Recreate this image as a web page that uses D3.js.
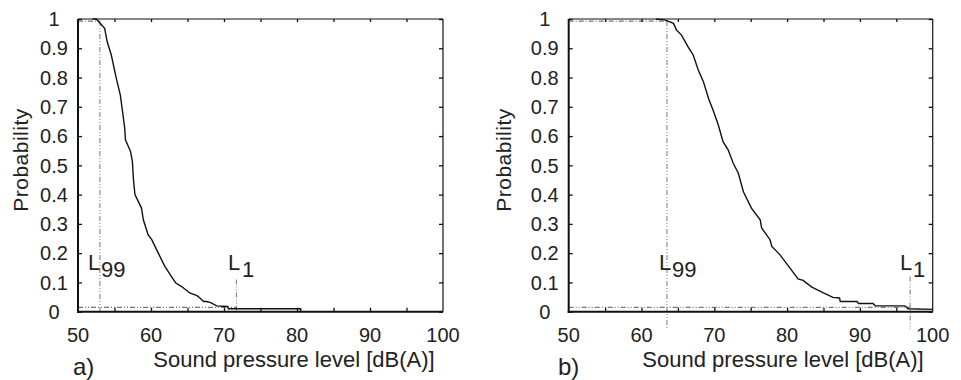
<!DOCTYPE html>
<html><head><meta charset="utf-8">
<script src="https://cdn.jsdelivr.net/npm/d3@7"></script>
<style>
html,body{margin:0;padding:0;background:#fff;}
text{font-family:"Liberation Sans",Arial,sans-serif;fill:#222;}
</style></head>
<body><svg id="c" width="961" height="380"></svg>
<script>
// ---- data ----
const xTicks = [50, 60, 70, 80, 90, 100];
const xMinorTicks = [55, 60, 65, 70, 75, 80, 85, 90, 95];
const yTicks = [0, 0.1, 0.2, 0.3, 0.4, 0.5, 0.6, 0.7, 0.8, 0.9, 1];
const yTickLabels = ["0", "0.1", "0.2", "0.3", "0.4", "0.5", "0.6", "0.7", "0.8", "0.9", "1"];

const splA  = [52.0, 52.5, 53.65, 54.0, 54.56, 55.25, 55.8, 56.1, 56.4, 56.5, 57.2, 57.45, 57.6, 57.8, 58.7, 58.95, 59.6, 60.1, 61.0, 61.9, 62.8, 63.4, 64.2, 65.3, 66.3, 66.7, 67.2, 67.6, 68.1, 69.0, 70.5, 70.6, 80.5, 80.5];
const probA = [1, 1, 0.968, 0.922, 0.877, 0.797, 0.74, 0.684, 0.627, 0.587, 0.547, 0.513, 0.45, 0.40, 0.354, 0.314, 0.263, 0.246, 0.20, 0.155, 0.12, 0.098, 0.086, 0.064, 0.055, 0.047, 0.035, 0.035, 0.032, 0.02, 0.018, 0.01, 0.01, 0];

const splB  = [62.0, 63.2, 64.4, 64.8, 65.5, 66.4, 67.1, 67.8, 68.5, 69.2, 69.9, 70.55, 71.2, 71.9, 72.6, 73.3, 74.0, 75.1, 76.3, 76.5, 77.65, 77.9, 79.0, 80.4, 81.5, 82.2, 83.4, 85.0, 86.3, 87.2, 87.3, 89.6, 89.8, 91.8, 92.1, 96.2, 96.6, 100];
const probB = [1, 0.997, 0.985, 0.962, 0.945, 0.905, 0.877, 0.826, 0.786, 0.729, 0.684, 0.638, 0.581, 0.553, 0.507, 0.473, 0.41, 0.354, 0.314, 0.286, 0.246, 0.223, 0.195, 0.149, 0.112, 0.107, 0.084, 0.064, 0.049, 0.047, 0.035, 0.035, 0.028, 0.028, 0.02, 0.02, 0.01, 0.008];

const L99 = [53.0, 63.5];
const L1 = [71.7, 96.9];
const pHigh = 0.993, pLow = 0.015;
const L1Top = [0.11, 0.12];
const lineBottom = [0, -0.06];
const panelLetters = ["a)", "b)"];
const xTitle = "Sound pressure level [dB(A)]";
const yTitle = "Probability";

// ---- layout ----
const panels = [
  {x0: 78, x1: 443, spl: splA, prob: probA, ylabX: 20, xlabX: 294, letX: 73,
   l99: {lx: 88, nx: 101}, l1: {lx: 228, nx: 242}},
  {x0: 568.7, x1: 932.7, spl: splB, prob: probB, ylabX: 503, xlabX: 783, letX: 558,
   l99: {lx: 659, nx: 672}, l1: {lx: 900, nx: 913}}
];
const yTop = 19, yBot = 311.7;
const svg = d3.select("#c");
const grey = "#777";

panels.forEach((p, i) => {
  const x = d3.scaleLinear().domain([50, 100]).range([p.x0, p.x1]);
  const y = d3.scaleLinear().domain([0, 1]).range([yBot, yTop]);
  const g = svg.append("g");

  // reference lines
  const dash = "5,2,1,2,1,2";
  g.append("line").attr("x1", x(50)).attr("x2", x(L99[i])).attr("y1", y(pHigh)).attr("y2", y(pHigh))
    .attr("stroke", grey).attr("stroke-width", 1.2).attr("stroke-dasharray", "5,2,1,2");
  g.append("line").attr("x1", x(L99[i])).attr("x2", x(L99[i])).attr("y1", y(pHigh)).attr("y2", y(lineBottom[i]))
    .attr("stroke", grey).attr("stroke-width", 1).attr("stroke-dasharray", dash);
  g.append("line").attr("x1", x(50)).attr("x2", x(L1[i])).attr("y1", y(pLow)).attr("y2", y(pLow))
    .attr("stroke", grey).attr("stroke-width", 1.2).attr("stroke-dasharray", dash);
  g.append("line").attr("x1", x(L1[i])).attr("x2", x(L1[i])).attr("y1", y(L1Top[i])).attr("y2", y(lineBottom[i]))
    .attr("stroke", grey).attr("stroke-width", 1).attr("stroke-dasharray", dash);

  // curve
  const pts = p.spl.map((v, k) => [v, p.prob[k]]);
  g.append("path").datum(pts)
    .attr("d", d3.line().x(d => x(d[0])).y(d => y(d[1])))
    .attr("fill", "none").attr("stroke", "#111").attr("stroke-width", 1.4);

  // axes (box with inward ticks)
  const axB = d3.axisBottom(x).tickValues(xMinorTicks).tickSize(-4).tickFormat("");
  const axT = d3.axisTop(x).tickValues(xMinorTicks).tickSize(-3).tickFormat("");
  const axL = d3.axisLeft(y).tickValues(yTicks).tickSize(-4).tickFormat("");
  const axR = d3.axisRight(y).tickValues(yTicks).tickSize(-4).tickFormat("");
  const style = sel => { sel.select(".domain").remove();
    sel.selectAll(".tick line").attr("stroke", "#111").attr("stroke-width", 1.3); };
  g.append("g").attr("transform", `translate(0,${yTop})`).call(axT).call(style);
  g.append("g").attr("transform", `translate(${p.x1},0)`).call(axR).call(style);
  g.append("g").attr("transform", `translate(0,${yBot})`).call(axB).call(style);
  g.append("g").attr("transform", `translate(${p.x0},0)`).call(axL).call(style);
  // frame
  const fr = [[p.x0, yTop, p.x1, yTop, 1.2], [p.x1, yTop, p.x1, yBot, 1.2],
              [p.x0 - 1, yBot, p.x1, yBot, 2], [p.x0, yTop, p.x0, yBot + 1, 2]];
  g.selectAll(".fr").data(fr).join("line")
    .attr("x1", d => d[0]).attr("y1", d => d[1]).attr("x2", d => d[2]).attr("y2", d => d[3])
    .attr("stroke", "#111").attr("stroke-width", d => d[4]);

  // tick labels
  g.selectAll(".xl").data(xTicks).join("text")
    .attr("x", d => x(d)).attr("y", 342).attr("text-anchor", "middle")
    .style("font-size", "20px").text(d => d);
  g.selectAll(".yl").data(yTicks).join("text")
    .attr("x", p.x0 - 24).attr("y", d => y(d)).attr("dy", "0.36em").attr("text-anchor", "middle")
    .style("font-size", "20px").text((d, k) => yTickLabels[k]);

  // titles
  g.append("text").attr("x", p.xlabX).attr("y", 367).attr("text-anchor", "middle")
    .style("font-size", "22px").text(xTitle);
  g.append("text").attr("transform", `translate(${p.ylabX},160) rotate(-90)`).attr("dy", "0.36em")
    .attr("text-anchor", "middle").style("font-size", "21px").style("letter-spacing", "0.5px").text(yTitle);
  g.append("text").attr("x", p.letX).attr("y", 375).style("font-size", "24px").text(panelLetters[i]);

  // L labels
  const lab = (lx, nx, sub) => {
    g.append("text").attr("x", lx).attr("y", 270).style("font-size", "22px").text("L");
    g.append("text").attr("x", nx).attr("y", 277).style("font-size", "22px").text(sub);
  };
  lab(p.l99.lx, p.l99.nx, "99");
  lab(p.l1.lx, p.l1.nx, "1");
});
</script></body></html>
